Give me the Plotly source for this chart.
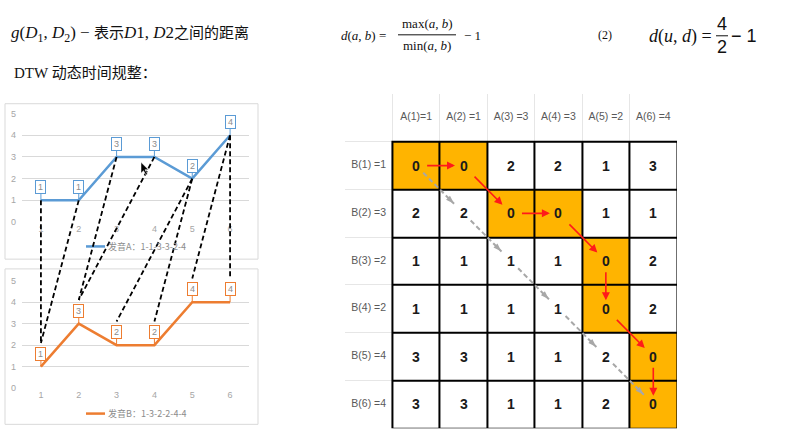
import plotly.graph_objects as go

W, H = 790, 444

# ---------------- data ----------------
x_idx = [1, 2, 3, 4, 5, 6]
speech_a = [1, 1, 3, 3, 2, 4]
speech_b = [1, 3, 2, 2, 4, 4]
legend_a = "发音A：1-1-3-3-2-4"
legend_b = "发音B：1-3-2-2-4-4"
y_ticks = [0, 1, 2, 3, 4, 5]

col_labels = ["A(1)=1", "A(2) =1", "A(3) =3", "A(4) =3", "A(5) =2", "A(6) =4"]
row_labels = ["B(1) =1", "B(2) =3", "B(3) =2", "B(4) =2", "B(5) =4", "B(6) =4"]
dist = [
    [0, 0, 2, 2, 1, 3],
    [2, 2, 0, 0, 1, 1],
    [1, 1, 1, 1, 0, 2],
    [1, 1, 1, 1, 0, 2],
    [3, 3, 1, 1, 2, 0],
    [3, 3, 1, 1, 2, 0],
]
# warping path: A index, B index
path_a = [1, 2, 3, 4, 5, 5, 6, 6]
path_b = [1, 1, 2, 2, 3, 4, 5, 6]

BLUE = "#5B9BD5"
ORANGE = "#ED7D31"
TICK = "#a6a6a6"
GRID = "#d9d9d9"
CELL_ON = "#FFB400"


def px(x):
    return x / W


def py(y):
    return 1 - y / H


AXES = {
    "A": dict(xd=[px(22), px(249)], xr=[0.5, 6.5], yd=[py(222), py(111)], yr=[0, 5]),
    "B": dict(xd=[px(22), px(249)], xr=[0.5, 6.5], yd=[py(392), py(282)], yr=[0, 5]),
}


def to_paper(key, x, y):
    a = AXES[key]
    fx = a["xd"][0] + (x - a["xr"][0]) / (a["xr"][1] - a["xr"][0]) * (a["xd"][1] - a["xd"][0])
    fy = a["yd"][0] + (y - a["yr"][0]) / (a["yr"][1] - a["yr"][0]) * (a["yd"][1] - a["yd"][0])
    return fx, fy


fig = go.Figure()

# ---------------- line charts ----------------
fig.add_trace(go.Scatter(x=x_idx, y=speech_a, mode="lines", line=dict(color=BLUE, width=2.5),
                         xaxis="x", yaxis="y", hoverinfo="skip", showlegend=False))
fig.add_trace(go.Scatter(x=x_idx, y=speech_b, mode="lines", line=dict(color=ORANGE, width=2.5),
                         xaxis="x2", yaxis="y2", hoverinfo="skip", showlegend=False))

annotations = []
shapes = []

for key, vals, col, xr, yr in (("A", speech_a, BLUE, "x", "y"), ("B", speech_b, ORANGE, "x2", "y2")):
    for xi, v in zip(x_idx, vals):
        annotations.append(dict(
            x=xi, y=v, xref=xr, yref=yr, text=str(v), showarrow=True, ax=0, ay=-13,
            arrowhead=0, arrowwidth=1, arrowcolor=col, bordercolor=col, borderwidth=1,
            borderpad=1, bgcolor="white", width=7,
            font=dict(family="Liberation Sans", size=9, color="#8c8c8c")))

# chart frames
for y0, y1 in ((101, 260), (270, 429)):
    shapes.append(dict(type="rect", xref="paper", yref="paper", x0=px(5), x1=px(258),
                       y0=py(y1), y1=py(y0), line=dict(color=GRID, width=1), layer="below"))

# legends
for (yy, col, txt) in ((247, BLUE, legend_a), (418, ORANGE, legend_b)):
    shapes.append(dict(type="line", xref="paper", yref="paper", x0=px(86), x1=px(105),
                       y0=py(yy), y1=py(yy), line=dict(color=col, width=2.5)))
    annotations.append(dict(x=px(106), y=py(yy), xref="paper", yref="paper", text=txt,
                            showarrow=False, xanchor="left", yanchor="middle",
                            font=dict(family="Noto Sans CJK SC", size=9, color="#8c8c8c")))

# dashed alignment lines between the two charts
for ia, ib in zip(path_a, path_b):
    x0, y0 = to_paper("A", ia, speech_a[ia - 1])
    x1, y1 = to_paper("B", ib, speech_b[ib - 1] + 1.1)
    shapes.append(dict(type="line", xref="paper", yref="paper", x0=x0, y0=y0, x1=x1, y1=y1,
                       line=dict(color="black", width=1.8, dash="5px,3px"), layer="above"))

# mouse cursor (screenshot artefact)
shapes.append(dict(type="path", xref="paper", yref="paper",
                   path=f"M {px(141)} {py(161)} L {px(141)} {py(172)} L {px(143.5)} {py(169.5)} "
                        f"L {px(146)} {py(174)} L {px(147.5)} {py(173)} L {px(145)} {py(168.5)} "
                        f"L {px(148.5)} {py(168.5)} Z",
                   fillcolor="black", line=dict(color="white", width=0.5), layer="above"))

# ---------------- DTW table ----------------
mask = [[0] * 6 for _ in range(6)]
for ia, ib in zip(path_a, path_b):
    mask[ib - 1][ia - 1] = 1

shapes.append(dict(type="rect", xref="x3", yref="y3", x0=0.5, x1=6.5, y0=0.5, y1=6.5,
                   fillcolor="black", line=dict(color="black", width=2), layer="between"))

fig.add_trace(go.Heatmap(
    x=x_idx, y=x_idx, z=mask, text=dist, texttemplate="%{text}",
    textfont=dict(family="Liberation Sans", size=14, color="#1a1a1a", weight="bold"),
    colorscale=[[0, "white"], [1, CELL_ON]], zmin=0, zmax=1, showscale=False,
    xgap=2, ygap=2, xaxis="x3", yaxis="y3", hoverinfo="skip"))

fig.add_trace(go.Scatter(x=x_idx, y=[0] * 6, text=col_labels, mode="text",
                         textfont=dict(family="Liberation Sans", size=10.5, color="#595959"),
                         xaxis="x3", yaxis="y3", hoverinfo="skip", showlegend=False))
fig.add_trace(go.Scatter(x=[0] * 6, y=x_idx, text=row_labels, mode="text",
                         textfont=dict(family="Liberation Sans", size=10.5, color="#595959"),
                         xaxis="x3", yaxis="y3", hoverinfo="skip", showlegend=False))

# gray diagonal dashed arrows
gx, gy, hx, hy = [], [], [], []
for i in range(1, 6):
    gx += [i + 0.15, i + 1 - 0.2, None]
    gy += [i + 0.15, i + 1 - 0.2, None]
    hx.append(i + 1 - 0.2)
    hy.append(i + 1 - 0.2)
fig.add_trace(go.Scatter(x=gx, y=gy, mode="lines", line=dict(color="#a8a8a8", width=2, dash="5px,3px"),
                         xaxis="x3", yaxis="y3", hoverinfo="skip", showlegend=False))
fig.add_trace(go.Scatter(x=hx, y=hy, mode="markers",
                         marker=dict(symbol="arrow", size=9, angle=135, color="#a8a8a8"),
                         xaxis="x3", yaxis="y3", hoverinfo="skip", showlegend=False))

# red path arrows
for k in range(len(path_a) - 1):
    a1, b1, a2, b2 = path_a[k], path_b[k], path_a[k + 1], path_b[k + 1]
    dx, dy = a2 - a1, b2 - b1
    annotations.append(dict(
        x=a2 - 0.18 * dx, y=b2 - 0.18 * dy, ax=a1 + 0.2 * dx, ay=b1 + 0.2 * dy,
        xref="x3", yref="y3", axref="x3", ayref="y3", text="", showarrow=True,
        arrowhead=2, arrowsize=1, arrowwidth=1.6, arrowcolor="#ff1a1a"))

# ---------------- header formulas ----------------
SERIF = "Liberation Serif, Noto Sans CJK SC"
CJK = 'style="font-family:Noto Sans CJK SC;font-size:15px"'


def txt(x, y, s, size, anchor="left", family=SERIF, color="#111111"):
    annotations.append(dict(x=px(x), y=py(y), xref="paper", yref="paper", text=s, showarrow=False,
                            xanchor=anchor, yanchor="middle",
                            font=dict(family=family, size=size, color=color)))


txt(9, 29, f"<i>g</i>(<i>D</i><sub>1</sub>, <i>D</i><sub>2</sub>) − <span {CJK}>表示</span>"
           f"<i>D</i>1, <i>D</i>2<span {CJK}>之间的距离</span>", 17)
txt(12, 68, f"DTW <span {CJK}>动态时间规整：</span>", 15)

txt(339, 31, "<i>d</i>(<i>a</i>, <i>b</i>) =", 13)
txt(427, 19, "max(<i>a</i>, <i>b</i>)", 13, anchor="center")
txt(427, 41, "min(<i>a</i>, <i>b</i>)", 13, anchor="center")
shapes.append(dict(type="line", xref="paper", yref="paper", x0=px(398), x1=px(456),
                   y0=py(30.5), y1=py(30.5), line=dict(color="#111111", width=1)))
txt(462, 31, "− 1", 13)
txt(596, 31, "(2)", 12)

txt(647, 32, "<i>d</i>(<i>u</i>, <i>d</i>) =", 18)
txt(722, 19, "4", 18, anchor="center", family="Liberation Sans")
txt(722, 43, "2", 18, anchor="center", family="Liberation Sans")
shapes.append(dict(type="line", xref="paper", yref="paper", x0=px(716), x1=px(728),
                   y0=py(31.5), y1=py(31.5), line=dict(color="#111111", width=1)))
txt(729, 32, "− 1", 18, family="Liberation Sans")

# ---------------- axes ----------------
def chart_x(dom):
    return dict(domain=dom, range=[0.5, 6.5], tickvals=x_idx, showgrid=False, zeroline=False,
                showline=False, ticks="", tickfont=dict(family="Liberation Sans", size=9, color=TICK),
                fixedrange=True)


def chart_y(dom):
    return dict(domain=dom, range=[0, 5], tickvals=y_ticks, showgrid=True, gridcolor=GRID,
                gridwidth=1, zeroline=False, showline=False, ticks="", ticklabelstandoff=5,
                tickfont=dict(family="Liberation Sans", size=9, color=TICK), fixedrange=True)


bounds = [k - 0.5 for k in range(8)]

fig.update_layout(
    width=W, height=H, autosize=False,
    margin=dict(l=0, r=0, t=0, b=0, pad=0),
    paper_bgcolor="white", plot_bgcolor="white",
    showlegend=False,
    xaxis=dict(**chart_x(AXES["A"]["xd"]), anchor="y"),
    yaxis=dict(**chart_y(AXES["A"]["yd"]), anchor="x"),
    xaxis2=dict(**chart_x(AXES["B"]["xd"]), anchor="y2"),
    yaxis2=dict(**chart_y(AXES["B"]["yd"]), anchor="x2"),
    xaxis3=dict(domain=[px(345), px(677)], range=[-0.5, 6.5], anchor="y3", tickvals=bounds,
                showticklabels=False, showgrid=True, gridcolor="#e6e6e6", zeroline=False,
                showline=False, ticks="", fixedrange=True),
    yaxis3=dict(domain=[py(433), py(91)], range=[6.5, -0.5], anchor="x3", tickvals=bounds,
                showticklabels=False, showgrid=True, gridcolor="#e6e6e6", zeroline=False,
                showline=False, ticks="", fixedrange=True),
    annotations=annotations,
    shapes=shapes,
)

fig.write_html("out.html")
